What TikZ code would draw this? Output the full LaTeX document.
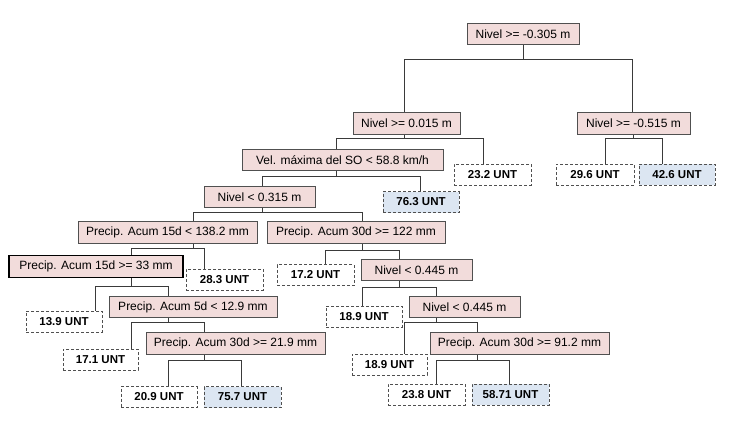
\documentclass[tikz,border=0pt]{standalone}
\usepackage{fontspec}
\setmainfont{Liberation Sans}
\definecolor{pinkf}{HTML}{F2DCDB}
\definecolor{bluef}{HTML}{DCE6F2}
\definecolor{bord}{HTML}{505050}
\definecolor{linec}{HTML}{3A3A3A}
\tikzset{
  cond/.style={draw=bord, fill=pinkf, line width=1pt, minimum height=21.5pt, inner sep=0pt, font=\fontsize{12}{14}\selectfont},
  leaf/.style={draw=bord, dash pattern=on 3pt off 2pt, line width=1pt, fill=white, minimum height=21pt, inner sep=0pt, font=\fontsize{11.5}{14}\selectfont\bfseries},
  leafb/.style={leaf, fill=bluef},
  link/.style={draw=linec, line width=0.9pt}
}
\newcommand\tsplit[7]{\draw[link] (#1.south -| #2,0) -- (#2,#3) -| (#4.north -| #5,0) (#2,#3) -| (#6.north -| #7,0);}
\begin{document}
\begin{tikzpicture}[x=1pt,y=-1pt]
\useasboundingbox[fill=white] (0,0) rectangle (732,424);
% condition nodes
\node[cond, minimum width=112] (root) at (523,34) {Nivel >= -0.305 m};
\node[cond, minimum width=107] (n1) at (406.5,123.5) {Nivel >= 0.015 m};
\node[cond, minimum width=113] (n2) at (633.5,123.5) {Nivel >= -0.515 m};
\node[cond, minimum width=201] (vel) at (342.5,160) {Vel. máxima del SO < 58.8 km/h};
\node[cond, minimum width=111] (n315) at (259.5,197) {Nivel < 0.315 m};
\node[cond, minimum width=179] (p15a) at (167.5,232.5) {Precip. Acum 15d < 138.2 mm};
\node[cond, minimum width=178] (p30a) at (356,232.5) {Precip. Acum 30d >= 122 mm};
\node[cond, minimum width=174, draw=black, line width=1.2pt] (p15b) at (96,266.5) {Precip. Acum 15d >= 33 mm};
\node[cond, minimum width=168] (p5) at (193,307) {Precip. Acum 5d < 12.9 mm};
\node[cond, minimum width=179] (p30b) at (235.5,343.5) {Precip. Acum 30d >= 21.9 mm};
\node[cond, minimum width=111] (n445a) at (416.5,270) {Nivel < 0.445 m};
\node[cond, minimum width=111] (n445b) at (464.5,307) {Nivel < 0.445 m};
\node[cond, minimum width=179] (p30c) at (519.5,343.5) {Precip. Acum 30d >= 91.2 mm};
% leaves
\node[leaf, minimum width=77] (l232) at (492.5,174.5) {23.2 UNT};
\node[leaf, minimum width=78] (l296) at (595,174.5) {29.6 UNT};
\node[leafb, minimum width=76] (l426) at (677,174.5) {42.6 UNT};
\node[leafb, minimum width=76] (l763) at (421,202) {76.3 UNT};
\node[leaf, minimum width=77] (l283) at (224.5,279.5) {28.3 UNT};
\node[leaf, minimum width=76] (l139) at (64,321.5) {13.9 UNT};
\node[leaf, minimum width=75] (l171) at (100.5,359.5) {17.1 UNT};
\node[leaf, minimum width=76] (l209) at (159,397) {20.9 UNT};
\node[leafb, minimum width=77] (l757) at (242.5,397) {75.7 UNT};
\node[leaf, minimum width=77] (l172) at (315.5,275) {17.2 UNT};
\node[leaf, minimum width=76] (l189a) at (364,316.5) {18.9 UNT};
\node[leaf, minimum width=75] (l189b) at (389.5,364.5) {18.9 UNT};
\node[leaf, minimum width=77] (l238) at (426.5,394.5) {23.8 UNT};
\node[leafb, minimum width=77] (l5871) at (510.5,394.5) {58.71 UNT};
% connectors
\tsplit{root}{523}{59}{n1}{404}{n2}{632}
\tsplit{n1}{404}{138}{vel}{336}{l232}{483}
\tsplit{n2}{633}{138}{l296}{605}{l426}{662}
\tsplit{vel}{336}{176}{n315}{262}{l763}{420}
\tsplit{n315}{262}{212}{p15a}{193}{p30a}{362}
\tsplit{p15a}{193}{248}{p15b}{131}{l283}{204}
\tsplit{p15b}{131}{286}{l139}{95}{p5}{168}
\tsplit{p5}{168}{322}{l171}{131}{p30b}{204}
\tsplit{p30b}{204}{360}{l209}{168}{l757}{241}
\tsplit{p30a}{362}{250}{l172}{325}{n445a}{399}
\tsplit{n445a}{399}{287}{l189a}{362}{n445b}{436}
\tsplit{n445b}{436}{322}{l189b}{404}{p30c}{477}
\tsplit{p30c}{477}{360}{l238}{436}{l5871}{509}
\end{tikzpicture}
\end{document}
